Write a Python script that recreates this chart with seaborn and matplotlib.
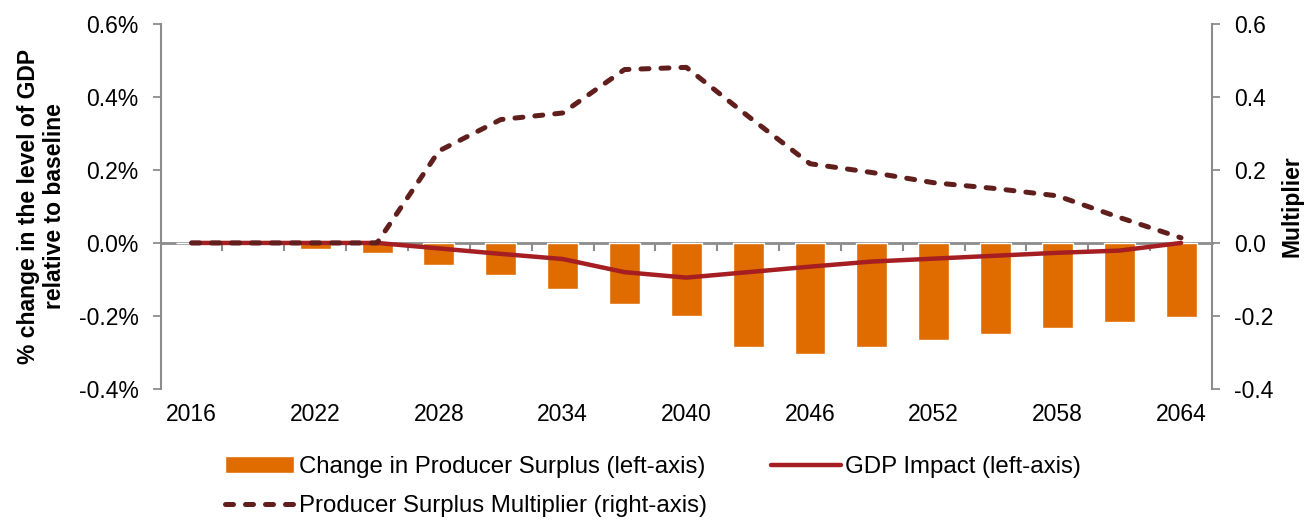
import numpy as np
import pandas as pd
import matplotlib
matplotlib.use('Agg')
import matplotlib.pyplot as plt
import seaborn as sns
from matplotlib.ticker import FuncFormatter

# values (left axis in %, right axis as multiplier)
years = [2016, 2019, 2022, 2025, 2028, 2031, 2034, 2037, 2040,
         2043, 2046, 2049, 2052, 2055, 2058, 2061, 2064]
producer_surplus = [0, 0, -0.016, -0.027, -0.06, -0.089, -0.127, -0.167, -0.2,
                    -0.285, -0.305, -0.285, -0.265, -0.249, -0.233, -0.217, -0.203]
gdp_impact = [0, 0, 0, 0, -0.015, -0.03, -0.044, -0.08, -0.095,
              -0.08, -0.065, -0.051, -0.043, -0.035, -0.027, -0.021, 0]
multiplier = [0, 0, 0, 0, 0.252, 0.338, 0.356, 0.475, 0.481,
              0.347, 0.217, 0.193, 0.165, 0.149, 0.129, 0.07, 0.014]
left_ticks = [-0.4, -0.2, 0.0, 0.2, 0.4, 0.6]

ORANGE = '#E06C00'
RED = '#A51E22'
BROWN = '#601F1C'
GREY = '#8C8C8C'
FS = 16.5

sns.set_style('white')
plt.rcParams['font.family'] = ['Liberation Sans', 'DejaVu Sans']
plt.rcParams['font.size'] = FS
plt.rcParams['text.color'] = 'black'
plt.rcParams['axes.labelcolor'] = 'black'

df = pd.DataFrame({'pos': np.arange(len(years)), 'surplus': producer_surplus,
                   'gdp': gdp_impact, 'mult': multiplier})

fig, ax = plt.subplots(figsize=(13.06, 5.2), dpi=100)
fig.subplots_adjust(left=0.123, right=0.928, bottom=0.252, top=0.954)

sns.barplot(data=df, x='pos', y='surplus', native_scale=True, width=0.5,
            color=ORANGE, saturation=1, ax=ax,
            label='Change in Producer Surplus (left-axis)')
sns.lineplot(data=df, x='pos', y='gdp', color=RED, lw=3.2, ax=ax,
             label='GDP Impact (left-axis)')

ax2 = ax.twinx()
sns.lineplot(data=df, x='pos', y='mult', color=BROWN, lw=3.6, ax=ax2,
             dashes=False, label='Producer Surplus Multiplier (right-axis)')
ax2.lines[0].set_dashes((1.6, 2.4))
ax2.lines[0].set_dash_capstyle('round')

# axes limits / ticks
ax.set_xlim(-0.5, len(years) - 0.5)
ax.set_ylim(-0.4, 0.6)
ax2.set_ylim(-0.4, 0.6)
ax.set_yticks(left_ticks)
ax2.set_yticks(left_ticks)
ax.yaxis.set_major_formatter(FuncFormatter(lambda v, p: f'{v:.1f}%'))
ax2.yaxis.set_major_formatter(FuncFormatter(lambda v, p: f'{v:.1f}'))
ax.set_xticks(df['pos'][::2])
ax.set_xticklabels([str(y) for y in years[::2]])
ax.tick_params(axis='x', length=0, pad=10, labelsize=FS, labelcolor='black')
ax.tick_params(axis='y', direction='out', length=6, width=1.3, color=GREY,
               pad=10, labelsize=FS, labelcolor='black', left=True)
ax2.tick_params(axis='y', direction='out', length=6, width=1.3, color=GREY,
                pad=10, labelsize=FS, labelcolor='black', right=True)

for s in ['top', 'bottom', 'right']:
    ax.spines[s].set_visible(False)
for s in ['top', 'bottom', 'left']:
    ax2.spines[s].set_visible(False)
ax.spines['left'].set_color(GREY)
ax.spines['left'].set_linewidth(1.5)
ax2.spines['right'].set_color(GREY)
ax2.spines['right'].set_linewidth(1.5)

# zero line with category separators
zero_axis = ax.secondary_xaxis(0, transform=ax.transData)
zero_axis.spines['bottom'].set_color(GREY)
zero_axis.spines['bottom'].set_linewidth(2)
zero_axis.set_xticks(df['pos'][:-1] + 0.5)
zero_axis.tick_params(axis='x', direction='out', length=6, width=1.5,
                      color=GREY, labelbottom=False)

ax.set_xlabel('')
ax.set_ylabel('% change in the level of GDP\nrelative to baseline',
              fontweight='bold', fontsize=FS, linespacing=1.15, labelpad=9)
ax2.set_ylabel('Multiplier', fontweight='bold', fontsize=FS, labelpad=5)

# legend
h1, l1 = ax.get_legend_handles_labels()
h2, l2 = ax2.get_legend_handles_labels()
for a in (ax, ax2):
    if a.get_legend() is not None:
        a.get_legend().remove()
handles = {l: h for h, l in zip(h1 + h2, l1 + l2)}
order = ['Change in Producer Surplus (left-axis)',
         'Producer Surplus Multiplier (right-axis)',
         'GDP Impact (left-axis)']
fig.legend([handles[k] for k in order], order, loc='center',
           bbox_to_anchor=(0.5, 0.064), ncol=2, frameon=False,
           handlelength=2.9, columnspacing=2.65, labelspacing=0.7,
           handletextpad=0.2, fontsize=17.3)

plt.savefig('out.png', dpi=100)
